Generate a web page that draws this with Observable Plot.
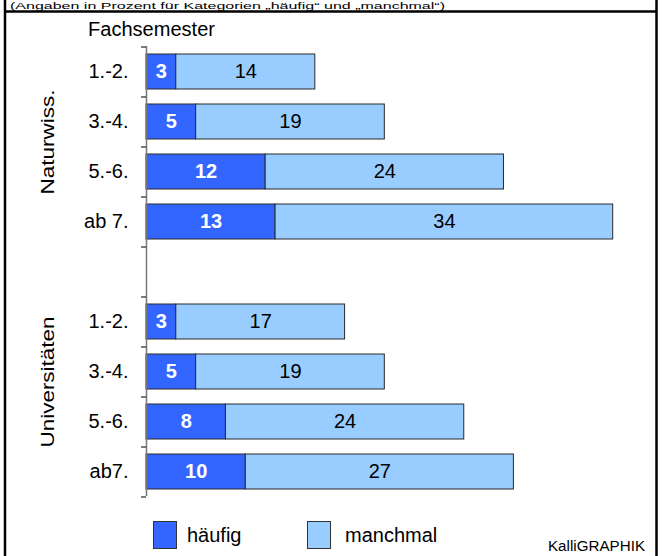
<!DOCTYPE html>
<html>
<head>
<meta charset="utf-8">
<script src="https://cdn.jsdelivr.net/npm/d3@7"></script>
<script src="https://cdn.jsdelivr.net/npm/@observablehq/plot@0.6"></script>
<style>
  html, body { margin: 0; padding: 0; background: #fff; }
  #wrap { position: relative; width: 662px; height: 556px; overflow: hidden; background: #fff; }
  #wrap > svg { position: absolute; left: 0; top: 0; }
</style>
</head>
<body>
<div id="wrap"></div>
<script>
// ---- data ----
const groups = ["Naturwiss.", "Universitäten"];
const semesterLabels = ["1.-2.", "3.-4.", "5.-6.", "ab 7.", "", "1.-2.", "3.-4.", "5.-6.", "ab7."];
const rowKeys = ["N1", "N2", "N3", "N4", "gap", "U1", "U2", "U3", "U4"];
const haeufig = [3, 5, 12, 13, null, 3, 5, 8, 10];
const manchmal = [14, 19, 24, 34, null, 17, 19, 24, 27];
const seriesNames = ["häufig", "manchmal"];
const seriesColors = ["#3366ff", "#99ccff"];
const subtitle = "(Angaben in Prozent für Kategorien „häufig“ und „manchmal“)";
const axisTitle = "Fachsemester";
const credit = "KalliGRAPHIK";

// long table built from the arrays
const data = [];
rowKeys.forEach((k, i) => {
  if (haeufig[i] != null) data.push({key: k, series: seriesNames[0], value: haeufig[i]});
  if (manchmal[i] != null) data.push({key: k, series: seriesNames[1], value: manchmal[i]});
});
const labelOf = new Map(rowKeys.map((k, i) => [k, semesterLabels[i]]));

const font = "'Liberation Sans', Arial, Helvetica, sans-serif";

const plot = Plot.plot({
  width: 662,
  height: 510,
  marginTop: 46,
  marginBottom: 14,
  marginLeft: 146,
  marginRight: 19.5,
  style: {fontFamily: font, fontSize: "20px", color: "#000", background: "transparent"},
  x: {domain: [0, 50], axis: null},
  y: {domain: rowKeys, paddingInner: 0.3, paddingOuter: 0.15, align: 0.5, axis: null},
  color: {domain: seriesNames, range: seriesColors},
  marks: [
    Plot.barX(data, Plot.stackX({
      x: "value", y: "key", fill: "series", order: seriesNames,
      stroke: "#2a2a2a", strokeWidth: 1
    })),
    Plot.text(data, Plot.stackX({
      x: "value", y: "key", z: "series", order: seriesNames,
      text: d => d.series === seriesNames[0] ? String(d.value) : "",
      fill: "white", fontWeight: "bold", fontSize: 20
    })),
    Plot.text(data, Plot.stackX({
      x: "value", y: "key", z: "series", order: seriesNames,
      text: d => d.series === seriesNames[1] ? String(d.value) : "",
      fill: "black", fontSize: 20
    })),
    // category axis line
    Plot.ruleX([0], {stroke: "#777", strokeWidth: 1.5}),
    // ticks at band boundaries
    Plot.ruleY(rowKeys, {y: d => d, x1: -0.5, x2: 0, dy: -25, stroke: "#222", strokeWidth: 1.2}),
    Plot.ruleY(rowKeys.slice(-1), {y: d => d, x1: -0.5, x2: 0, dy: 25, stroke: "#222", strokeWidth: 1.2}),
    Plot.axisY({tickSize: 0, tickPadding: 18, tickFormat: d => labelOf.get(d), fontSize: 20, fill: "#000", label: null})
  ]
});
const wrap = document.getElementById("wrap");
wrap.appendChild(plot);

// overlay: frame, titles, group labels, legend
const svg = d3.select(wrap).append("svg")
  .attr("width", 662).attr("height", 556)
  .style("font-family", font)
  .style("pointer-events", "none");

svg.append("text")
  .attr("x", 10).attr("y", 9)
  .attr("font-size", 9.5)
  .attr("textLength", 435).attr("lengthAdjust", "spacingAndGlyphs")
  .text(subtitle);

// frame lines
svg.append("line").attr("x1", 5).attr("x2", 657).attr("y1", 11.5).attr("y2", 11.5)
  .attr("stroke", "#000").attr("stroke-width", 2.5);
svg.append("line").attr("x1", 5).attr("x2", 5).attr("y1", 0).attr("y2", 556)
  .attr("stroke", "#000").attr("stroke-width", 2.5);
svg.append("line").attr("x1", 656.5).attr("x2", 656.5).attr("y1", 0).attr("y2", 556)
  .attr("stroke", "#000").attr("stroke-width", 2.5);

svg.append("text").attr("x", 88).attr("y", 36).attr("font-size", 20)
  .attr("textLength", 127).attr("lengthAdjust", "spacingAndGlyphs").text(axisTitle);

// rotated group labels
const groupCenters = [142, 382];
const groupLengths = [105, 131];
groups.forEach((g, i) => {
  svg.append("text")
    .attr("transform", `translate(54,${groupCenters[i]}) rotate(-90)`)
    .attr("text-anchor", "middle")
    .attr("font-size", 18)
    .attr("textLength", groupLengths[i]).attr("lengthAdjust", "spacingAndGlyphs")
    .text(g);
});

// legend
const legendX = [153, 307];
const legendTextX = [187, 345];
seriesNames.forEach((s, i) => {
  svg.append("rect").attr("x", legendX[i] + 0.5).attr("y", 521.5).attr("width", 23).attr("height", 27)
    .attr("fill", seriesColors[i]).attr("stroke", "#333").attr("stroke-width", 1);
  svg.append("text").attr("x", legendTextX[i]).attr("y", 542).attr("font-size", 20).text(s);
});

svg.append("text").attr("x", 548).attr("y", 551).attr("font-size", 14)
  .attr("textLength", 97).attr("lengthAdjust", "spacingAndGlyphs").text(credit);
</script>
</body>
</html>
